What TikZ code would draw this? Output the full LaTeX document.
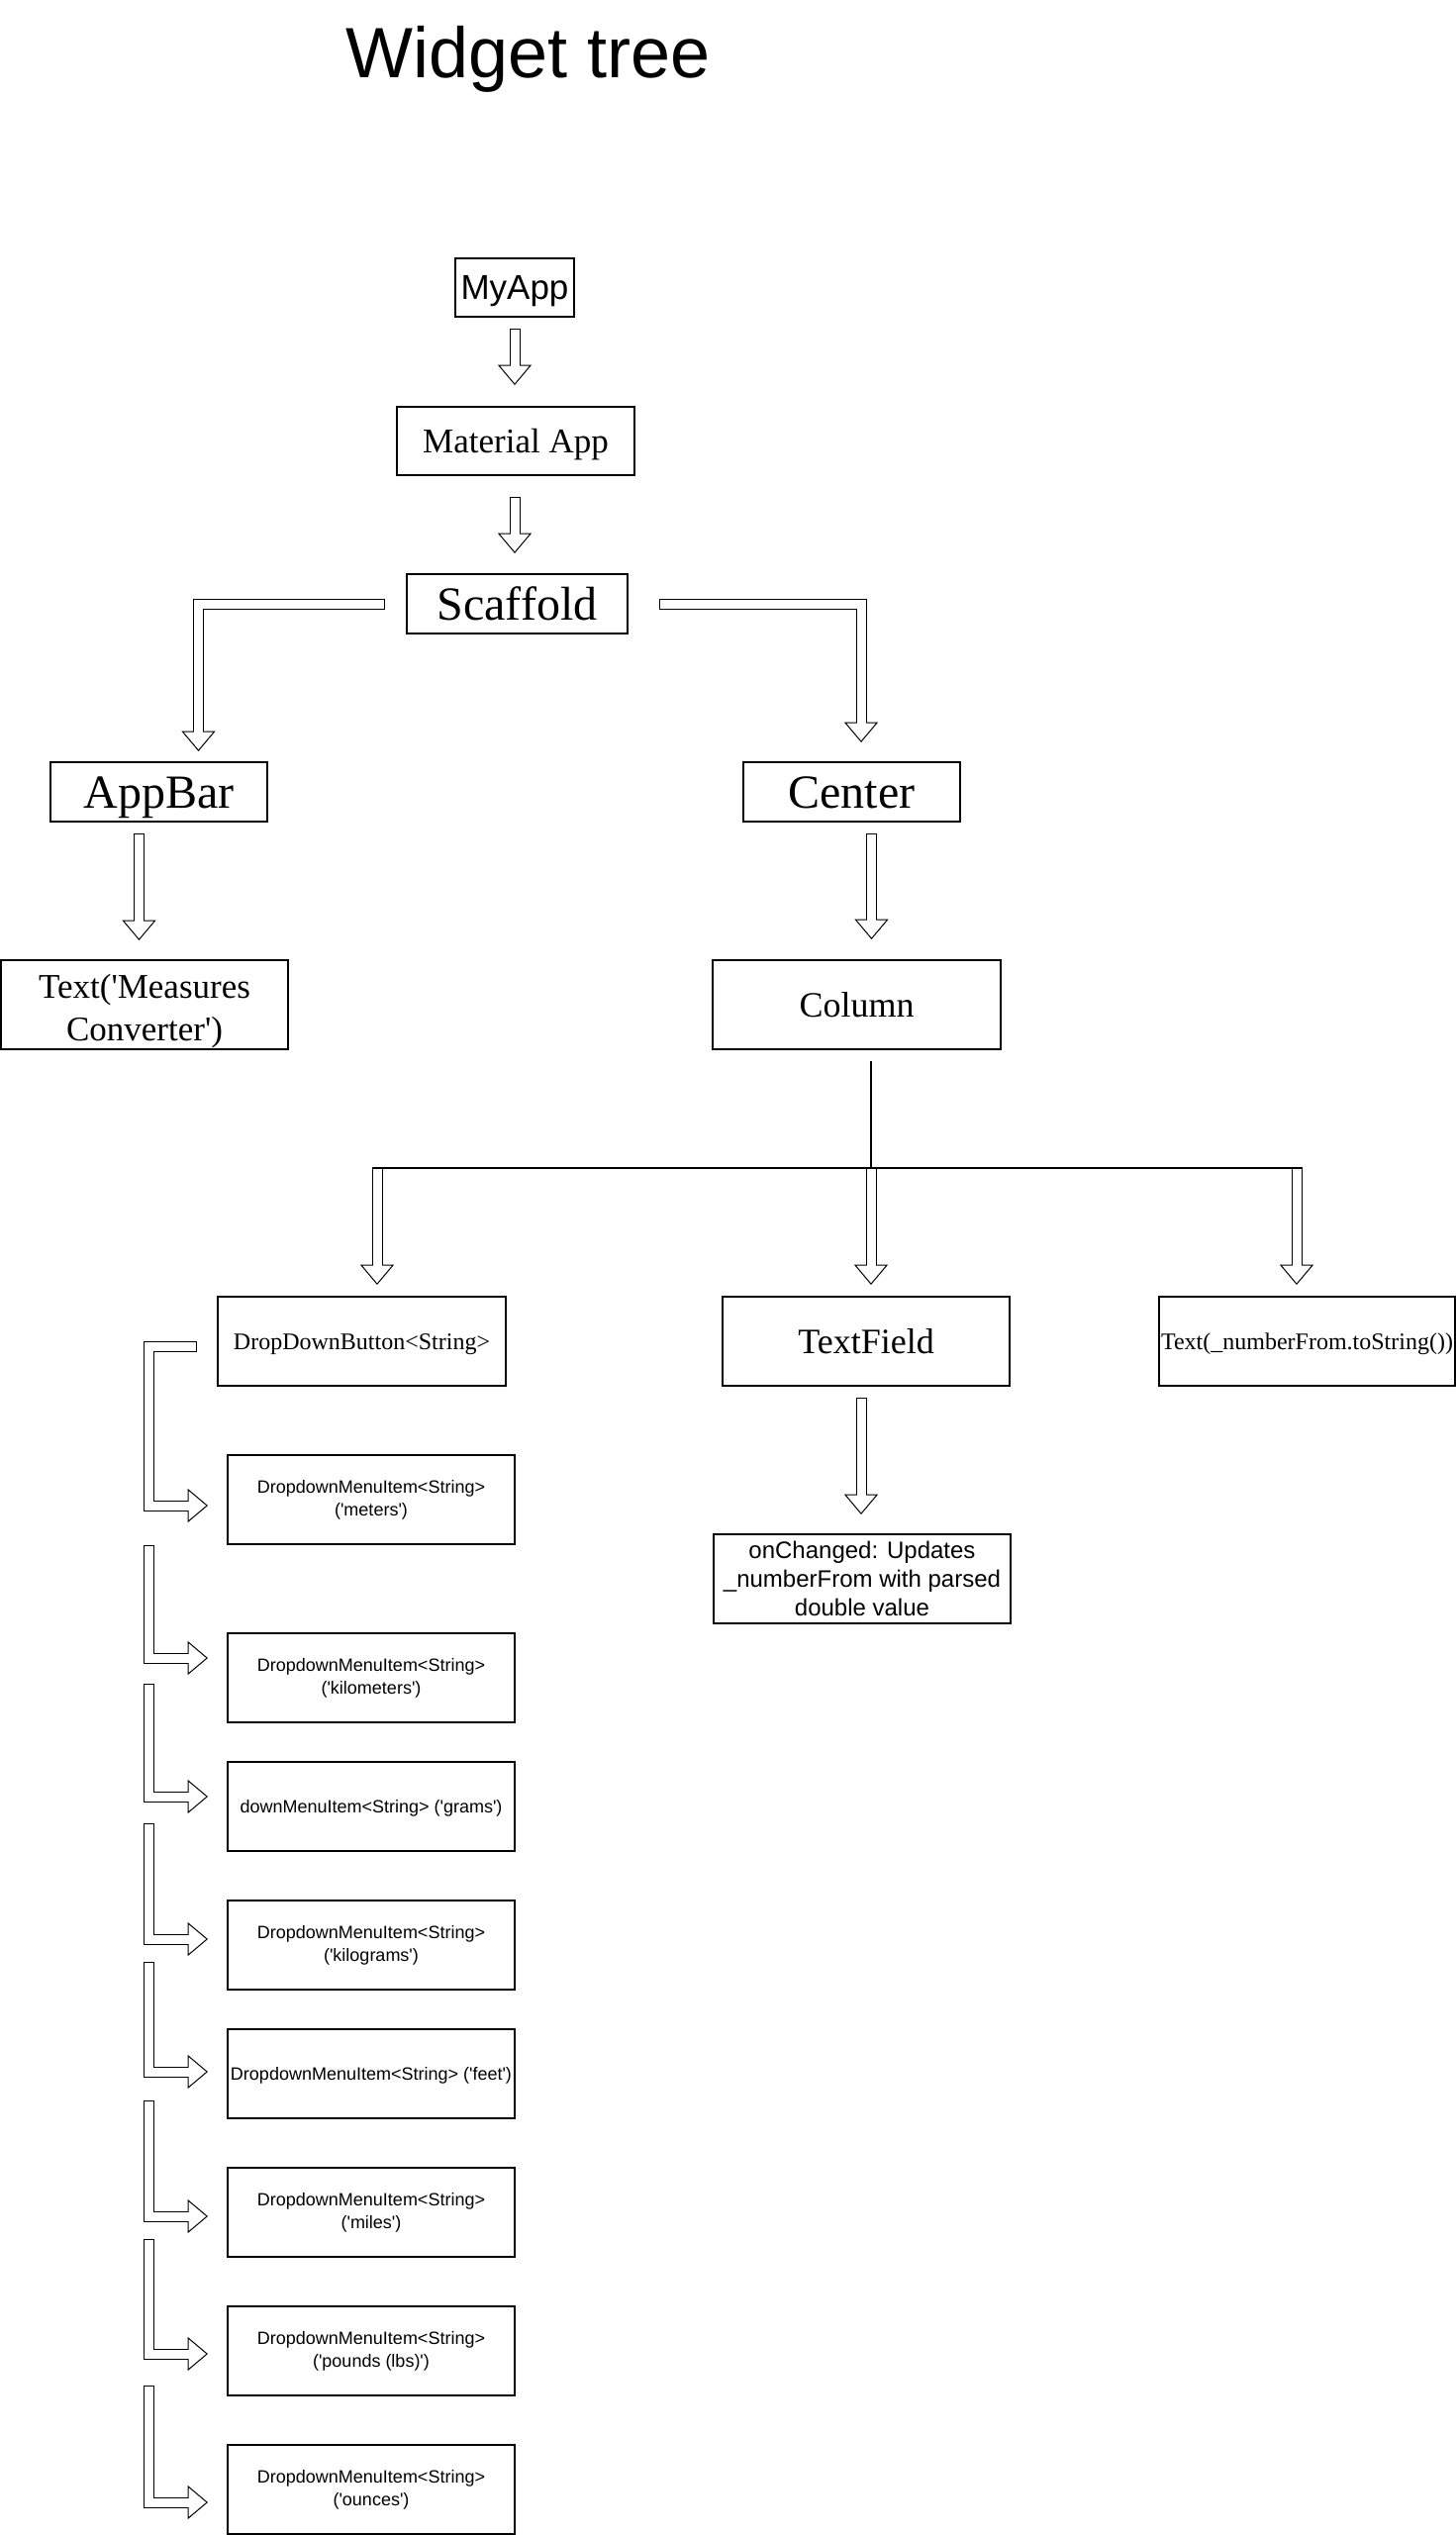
\documentclass[tikz,border=0pt]{standalone}
\usepackage{fontspec}
\setmainfont{Liberation Serif}
\setsansfont{Liberation Sans}
\usetikzlibrary{calc}
\newcommand\qs{\textquotesingle}

% hollow "flex" arrow: black outer shaft, white head, white inner shaft
\newcommand\flexdown[2]{%
  \draw[shaftout] #1;
  \draw[headtip] #2 ++(-16,0) -- ++(32,0) -- ++(-16,19) -- cycle;
  \draw[shaftin] #1;}
\newcommand\flexright[2]{%
  \draw[shaftout] #1;
  \draw[headtip] #2 ++(0,-16) -- ++(0,32) -- ++(19,-16) -- cycle;
  \draw[shaftin] #1;}

\begin{document}
\begin{tikzpicture}[x=0.5pt,y=-0.5pt,
  box/.style={draw, line width=0.8pt, inner sep=0pt, align=center},
  % single-line text: a line box of 1.2em with the baseline placed as in a browser
  sz175/.style={font=\fontsize{17.5}{21}\selectfont, text height=16.5pt, text depth=4.5pt},
  sz24/.style={font=\fontsize{24}{28}\selectfont, text height=22.7pt, text depth=6.1pt},
  sz18/.style={font=\fontsize{18}{21}\selectfont, text height=17pt, text depth=4.6pt},
  sz12/.style={font=\fontsize{12}{14}\selectfont, text height=11.3pt, text depth=3.1pt},
  item/.style={box, minimum width=145pt, minimum height=45pt,
               font=\sffamily\fontsize{9}{11.5}\selectfont},
  oneline/.style={text height=8.5pt, text depth=2.3pt},
  shaftout/.style={line width=5.5pt, line join=miter, line cap=butt},
  shaftin/.style={white, line width=4.5pt, line join=miter, line cap=butt,
                  shorten <=0.5pt, shorten >=-0.6pt},
  headtip/.style={fill=white, draw=black, line width=0.5pt, line join=miter},
  busline/.style={line width=0.7pt}
]
\useasboundingbox (0,0) rectangle (1471,2561);

% title
\node[anchor=base, font=\sffamily\fontsize{36}{40}\selectfont] (title) at (534,78) {Widget tree};

% upper part of the tree
\node[box, sz175, font=\sffamily\fontsize{17.5}{21}\selectfont,
      minimum width=60pt, minimum height=29.5pt] (myapp) at (520,290.5) {MyApp};
\node[box, sz175, minimum width=120pt, minimum height=34.5pt] (material) at (521,445.5) {Material App};
\node[box, sz24, minimum width=111.5pt, minimum height=30pt] (scaffold) at (522.5,610) {Scaffold};
\node[box, sz24, minimum width=109.5pt, minimum height=30pt] (appbar) at (160.5,800) {AppBar};
\node[box, sz24, minimum width=109.5pt, minimum height=30pt] (center) at (860.5,800) {Center};
\node[box, minimum width=145pt, minimum height=45pt,
      font=\fontsize{17.5}{21.5}\selectfont] (measures) at (146,1015)
      {\rule{0pt}{19pt}Text(\qs Measures\\Converter\qs)};
\node[box, sz18, minimum width=145.5pt, minimum height=45pt] (column) at (865.5,1015) {Column};

% children of the column
\node[box, sz12, minimum width=145.5pt, minimum height=45pt] (dropdown) at (365.5,1355) {DropDownButton<String>};
\node[box, sz18, minimum width=145pt, minimum height=45pt] (textfield) at (875,1355) {TextField};
\node[box, sz12, minimum width=149.5pt, minimum height=45pt] (textout) at (1320.5,1355) {Text(\_numberFrom.toString())};
\node[box, minimum width=150pt, minimum height=45pt,
      font=\sffamily\fontsize{12}{14.5}\selectfont] (onchanged) at (871,1595)
      {onChanged: Updates\\\_numberFrom with parsed\\double value};

% dropdown menu items
\node[item] (m1) at (375,1515) {DropdownMenuItem<String>\\(\qs meters\qs)};
\node[item] (m2) at (375,1695) {DropdownMenuItem<String>\\(\qs kilometers\qs)};
\node[item, oneline] (m3) at (375,1825) {downMenuItem<String> (\qs grams\qs)};
\node[item] (m4) at (375,1965) {DropdownMenuItem<String>\\(\qs kilograms\qs)};
\node[item, oneline] (m5) at (375,2095) {DropdownMenuItem<String> (\qs feet\qs)};
\node[item] (m6) at (375,2235) {DropdownMenuItem<String>\\(\qs miles\qs)};
\node[item] (m7) at (375,2375) {DropdownMenuItem<String>\\(\qs pounds (lbs)\qs)};
\node[item] (m8) at (375,2515) {DropdownMenuItem<String>\\(\qs ounces\qs)};

% straight arrows in the upper part
\coordinate (a1t) at ($(myapp.south)+(0,11)$);
\coordinate (a1b) at ($(a1t |- material.north)+(0,-41)$);
\flexdown{(a1t) -- (a1b)}{(a1b)}
\coordinate (a2t) at ($(a1t |- material.south)+(0,21)$);
\coordinate (a2b) at ($(a1t |- scaffold.north)+(0,-40)$);
\flexdown{(a2t) -- (a2b)}{(a2b)}

% scaffold branches
\coordinate (a3t) at ($(scaffold.west)+(-21,0)$);
\coordinate (a3b) at ($(appbar.north)+(40,-30)$);
\flexdown{(a3t) -| (a3b)}{(a3b)}
\coordinate (a4t) at ($(scaffold.east)+(31,0)$);
\coordinate (a4b) at ($(center.north)+(9.5,-39)$);
\flexdown{(a4t) -| (a4b)}{(a4b)}

\coordinate (a5t) at ($(appbar.south)+(-20,11)$);
\coordinate (a5b) at ($(a5t |- measures.north)+(0,-39)$);
\flexdown{(a5t) -- (a5b)}{(a5b)}
\coordinate (a6t) at ($(center.south)+(20,11)$);
\coordinate (a6b) at ($(a6t |- column.north)+(0,-40)$);
\flexdown{(a6t) -- (a6b)}{(a6b)}

% column fan-out
\coordinate (busy) at (0,1180);
\coordinate (colout) at ($(column.south)+(14.5,11)$);
\coordinate (b1t) at ($(dropdown.north)+(15.5,-129)$);
\coordinate (b2t) at ($(textfield.north)+(5,-129)$);
\coordinate (b3t) at ($(textout.north)+(-10.5,-129)$);
\draw[busline] (colout) -- (colout |- busy);
\draw[busline] ($(b1t |- busy)+(-5.5,0)$) -- ($(b3t |- busy)+(5.5,0)$);
\coordinate (b1b) at ($(b1t |- dropdown.north)+(0,-31)$);
\coordinate (b2b) at ($(b2t |- textfield.north)+(0,-31)$);
\coordinate (b3b) at ($(b3t |- textout.north)+(0,-31)$);
\flexdown{(b1t) -- (b1b)}{(b1b)}
\flexdown{(b2t) -- (b2b)}{(b2b)}
\flexdown{(b3t) -- (b3b)}{(b3b)}

% text field callback
\coordinate (a7t) at ($(textfield.south)+(-5,11)$);
\coordinate (a7b) at ($(a7t |- onchanged.north)+(0,-39)$);
\flexdown{(a7t) -- (a7b)}{(a7b)}

% elbow arrows down the menu items
\coordinate (ex) at (150.5,0);
\coordinate (e1t) at ($(dropdown.west)+(-20,5.5)$);
\coordinate (e1b) at ($(m1.west)+(-39,6)$);
\flexright{(e1t) -- (e1t -| ex) -- (ex |- e1b) -- (e1b)}{(e1b)}
\foreach \i/\ty/\dy in {2/1561/-20, 3/1701/-10, 4/1842/-6, 5/1982/-2,
                        6/2122/4, 7/2262/3, 8/2410/13}{
  \coordinate (e\i t) at (150.5,\ty);
  \coordinate (e\i b) at ($(m\i.west)+(-39,\dy)$);
  \flexright{(e\i t) -- (e\i t |- e\i b) -- (e\i b)}{(e\i b)}
}
\end{tikzpicture}
\end{document}
